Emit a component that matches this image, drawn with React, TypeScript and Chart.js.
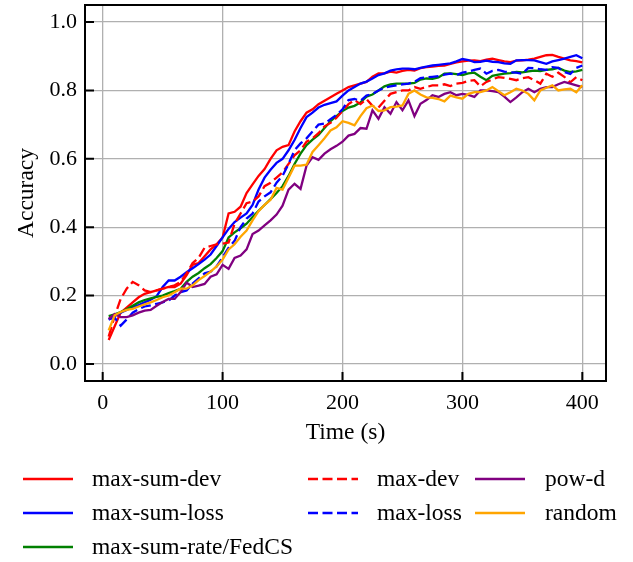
import React, { useEffect, useRef } from "react";
import { Chart, registerables } from "chart.js";

Chart.register(...registerables);

const TIMES = [
  5, 10, 15, 20, 25, 30, 35, 40, 45, 50, 55, 60, 65, 70, 75, 80, 85, 90, 95, 100,
  105, 110, 115, 120, 125, 130, 135, 140, 145, 150, 155, 160, 165, 170, 175, 180, 185, 190, 195, 200,
  205, 210, 215, 220, 225, 230, 235, 240, 245, 250, 255, 260, 265, 270, 275, 280, 285, 290, 295, 300,
  305, 310, 315, 320, 325, 330, 335, 340, 345, 350, 355, 360, 365, 370, 375, 380, 385, 390, 395, 400,
];

const MAX_SUM_DEV = [
  0.07, 0.11, 0.15, 0.165, 0.18, 0.195, 0.205, 0.21, 0.215, 0.22, 0.225, 0.225, 0.235, 0.26, 0.29, 0.295, 0.315, 0.335, 0.35, 0.37,
  0.44, 0.445, 0.46, 0.5, 0.525, 0.55, 0.57, 0.6, 0.625, 0.635, 0.64, 0.68, 0.71, 0.735, 0.745, 0.76, 0.77, 0.78, 0.79, 0.8,
  0.81, 0.815, 0.82, 0.825, 0.84, 0.85, 0.85, 0.855, 0.852, 0.857, 0.86, 0.858, 0.865, 0.868, 0.87, 0.872, 0.873, 0.878, 0.882, 0.885,
  0.887, 0.888, 0.886, 0.89, 0.893, 0.889, 0.885, 0.883, 0.887, 0.888, 0.89, 0.893, 0.898, 0.903, 0.904, 0.898, 0.893, 0.888, 0.886, 0.882,
];

const MAX_SUM_LOSS = [
  0.13, 0.14, 0.15, 0.158, 0.166, 0.172, 0.18, 0.188, 0.198, 0.225, 0.244, 0.244, 0.255, 0.268, 0.28, 0.292, 0.305, 0.32, 0.345, 0.37,
  0.395, 0.415, 0.428, 0.44, 0.465, 0.51, 0.545, 0.568, 0.588, 0.6, 0.625, 0.655, 0.69, 0.722, 0.735, 0.75, 0.758, 0.763, 0.768, 0.785,
  0.8, 0.81, 0.82, 0.826, 0.835, 0.845, 0.85, 0.858, 0.862, 0.864, 0.864, 0.862, 0.866, 0.87, 0.873, 0.875, 0.877, 0.879, 0.885, 0.892,
  0.889, 0.883, 0.884, 0.887, 0.884, 0.883, 0.879, 0.878, 0.888, 0.889, 0.889, 0.888, 0.883, 0.878, 0.885, 0.889, 0.893, 0.898, 0.903, 0.894,
];

const MAX_SUM_RATE = [
  0.14, 0.145, 0.152, 0.16, 0.17, 0.18, 0.187, 0.192, 0.196, 0.2, 0.207, 0.213, 0.22, 0.24, 0.255, 0.266, 0.28, 0.292, 0.31, 0.33,
  0.37, 0.385, 0.397, 0.41, 0.43, 0.448, 0.465, 0.482, 0.5, 0.52, 0.55, 0.585, 0.615, 0.64, 0.656, 0.67, 0.69, 0.71, 0.725, 0.74,
  0.75, 0.755, 0.765, 0.782, 0.788, 0.8, 0.812, 0.818, 0.82, 0.82, 0.82, 0.822, 0.832, 0.835, 0.834, 0.838, 0.849, 0.85, 0.848, 0.845,
  0.85, 0.852, 0.84, 0.83, 0.843, 0.846, 0.849, 0.851, 0.854, 0.853, 0.856, 0.858, 0.857, 0.86, 0.862, 0.866, 0.858, 0.854, 0.856, 0.86,
];

const MAX_DEV = [
  0.08, 0.14, 0.19, 0.22, 0.24, 0.23, 0.215, 0.21, 0.215, 0.22, 0.225, 0.23, 0.24, 0.265, 0.295, 0.31, 0.34, 0.345, 0.35, 0.352,
  0.355, 0.41, 0.44, 0.47, 0.475, 0.49, 0.52, 0.53, 0.545, 0.56, 0.585, 0.61, 0.625, 0.65, 0.66, 0.675, 0.695, 0.705, 0.72, 0.74,
  0.76, 0.772, 0.76, 0.775, 0.755, 0.75, 0.77, 0.79, 0.795, 0.8, 0.8, 0.81, 0.805, 0.81, 0.815, 0.815, 0.818, 0.813, 0.82, 0.822,
  0.828, 0.83, 0.812, 0.825, 0.832, 0.839, 0.837, 0.834, 0.83, 0.836, 0.839, 0.83, 0.82, 0.849, 0.84, 0.852, 0.84, 0.824, 0.839, 0.83,
];

const MAX_LOSS = [
  0.13, 0.135, 0.112, 0.13, 0.15, 0.16, 0.168, 0.171, 0.176, 0.18, 0.185, 0.2, 0.21, 0.215, 0.235, 0.25, 0.265, 0.27, 0.285, 0.312,
  0.34, 0.36, 0.4, 0.425, 0.44, 0.475, 0.49, 0.502, 0.53, 0.55, 0.585, 0.625, 0.645, 0.66, 0.68, 0.7, 0.703, 0.716, 0.728, 0.745,
  0.772, 0.775, 0.77, 0.785, 0.79, 0.8, 0.808, 0.812, 0.815, 0.818, 0.82, 0.825, 0.836, 0.838, 0.84, 0.842, 0.846, 0.849, 0.845, 0.852,
  0.855, 0.86, 0.864, 0.849, 0.857, 0.86, 0.855, 0.853, 0.852, 0.849, 0.866, 0.865, 0.862, 0.86, 0.868, 0.866, 0.854, 0.848, 0.866, 0.873,
];

const POW_D = [
  0.132, 0.146, 0.137, 0.137, 0.142, 0.15, 0.156, 0.158, 0.17, 0.181, 0.19, 0.19, 0.21, 0.238, 0.225, 0.229, 0.234, 0.255, 0.262, 0.29,
  0.278, 0.31, 0.317, 0.335, 0.38, 0.39, 0.405, 0.42, 0.437, 0.463, 0.51, 0.527, 0.512, 0.58, 0.605, 0.597, 0.615, 0.628, 0.638, 0.65,
  0.668, 0.673, 0.69, 0.688, 0.742, 0.717, 0.751, 0.732, 0.766, 0.742, 0.771, 0.725, 0.761, 0.772, 0.786, 0.781, 0.79, 0.795, 0.786, 0.79,
  0.787, 0.781, 0.8, 0.8, 0.798, 0.795, 0.782, 0.766, 0.78, 0.795, 0.805, 0.795, 0.805, 0.81, 0.81, 0.818, 0.825, 0.82, 0.815, 0.81,
];

const RANDOM = [
  0.098, 0.142, 0.152, 0.158, 0.161, 0.168, 0.174, 0.18, 0.187, 0.195, 0.2, 0.21, 0.22, 0.22, 0.23, 0.245, 0.257, 0.27, 0.285, 0.305,
  0.335, 0.35, 0.372, 0.39, 0.42, 0.447, 0.465, 0.48, 0.515, 0.51, 0.545, 0.58, 0.58, 0.583, 0.62, 0.64, 0.66, 0.683, 0.692, 0.71,
  0.705, 0.698, 0.725, 0.748, 0.756, 0.74, 0.742, 0.751, 0.753, 0.756, 0.79, 0.8, 0.788, 0.78, 0.778, 0.775, 0.768, 0.785, 0.78, 0.776,
  0.79, 0.795, 0.795, 0.8, 0.81, 0.798, 0.786, 0.795, 0.805, 0.8, 0.79, 0.771, 0.8, 0.808, 0.815, 0.8, 0.803, 0.805, 0.795, 0.815,
];

const SERIES_LABELS = [
  "max-sum-dev",
  "max-sum-loss",
  "max-sum-rate/FedCS",
  "max-dev",
  "max-loss",
  "pow-d",
  "random",
];

const X_TICKS = [0, 100, 200, 300, 400];
const Y_TICKS = [0, 0.2, 0.4, 0.6, 0.8, 1.0];

const FONT = "'Liberation Serif', 'Times New Roman', Times, serif";

export default function App() {
  const canvasRef = useRef<HTMLCanvasElement>(null);

  useEffect(() => {
    const canvas = canvasRef.current;
    if (!canvas) return;

    const seriesValues = [MAX_SUM_DEV, MAX_SUM_LOSS, MAX_SUM_RATE, MAX_DEV, MAX_LOSS, POW_D, RANDOM];
    const colors = ["#ff0000", "#0000ff", "#008000", "#ff0000", "#0000ff", "#800080", "#ffa500"];
    const dashes = [[], [], [], [10, 4.5], [10, 4.5], [], []];
    const n = SERIES_LABELS.length;

    const datasets = SERIES_LABELS.map((label, i) => ({
      label,
      data: TIMES.map((t, k) => ({ x: t, y: seriesValues[i][k] })),
      borderColor: colors[i],
      backgroundColor: colors[i],
      borderWidth: 2.3,
      borderDash: dashes[i],
      pointRadius: 0,
      tension: 0,
      fill: false,
      order: n - i,
    }));

    // legend layout (column-major, 3 columns)
    const legendItems = [
      { i: 0, lx: 23, tx: 92, y: 479 },
      { i: 1, lx: 23, tx: 92, y: 513 },
      { i: 2, lx: 23, tx: 92, y: 547 },
      { i: 3, lx: 308, tx: 377, y: 479 },
      { i: 4, lx: 308, tx: 377, y: 513 },
      { i: 5, lx: 475, tx: 545, y: 479 },
      { i: 6, lx: 475, tx: 545, y: 513 },
    ];

    const decorPlugin = {
      id: "decor",
      afterDraw(chart: any) {
        const { ctx, chartArea: a, scales } = chart;
        ctx.save();
        ctx.strokeStyle = "#000";
        ctx.lineWidth = 2;
        ctx.setLineDash([]);
        // inward ticks
        ctx.beginPath();
        for (const v of X_TICKS) {
          const px = scales.x.getPixelForValue(v);
          ctx.moveTo(px, a.bottom);
          ctx.lineTo(px, a.bottom - 9);
        }
        for (const v of Y_TICKS) {
          const py = scales.y.getPixelForValue(v);
          ctx.moveTo(a.left, py);
          ctx.lineTo(a.left + 9, py);
        }
        ctx.stroke();
        // frame
        ctx.strokeRect(a.left, a.top, a.right - a.left, a.bottom - a.top);

        // axis titles
        ctx.fillStyle = "#000";
        ctx.font = `23.5px ${FONT}`;
        ctx.textAlign = "center";
        ctx.textBaseline = "middle";
        ctx.fillText("Time (s)", (a.left + a.right) / 2, 433);
        ctx.save();
        ctx.translate(27, (a.top + a.bottom) / 2);
        ctx.rotate(-Math.PI / 2);
        ctx.fillText("Accuracy", 0, 0);
        ctx.restore();

        // legend
        ctx.textAlign = "left";
        for (const it of legendItems) {
          ctx.beginPath();
          ctx.strokeStyle = colors[it.i];
          ctx.lineWidth = 2.3;
          ctx.setLineDash(dashes[it.i]);
          ctx.moveTo(it.lx, it.y);
          ctx.lineTo(it.lx + 50, it.y);
          ctx.stroke();
          ctx.setLineDash([]);
          ctx.fillStyle = "#000";
          ctx.fillText(SERIES_LABELS[it.i], it.tx, it.y + 1);
        }
        ctx.restore();
      },
    };

    const chart = new Chart(canvas, {
      type: "line",
      data: { datasets },
      options: {
        animation: false,
        responsive: false,
        maintainAspectRatio: false,
        layout: { padding: { top: 5, right: 27, bottom: 121, left: 0 } },
        plugins: {
          legend: { display: false },
          tooltip: { enabled: false },
        },
        scales: {
          x: {
            type: "linear",
            min: -14.75,
            max: 419.75,
            afterBuildTicks: (scale: any) => {
              scale.ticks = X_TICKS.map((v) => ({ value: v }));
            },
            afterFit: (scale: any) => {
              scale.height = 60;
              scale.paddingLeft = 0;
              scale.paddingRight = 0;
              scale.paddingTop = 0;
              scale.paddingBottom = 0;
            },
            grid: { color: "#b0b0b0", lineWidth: 1.3, drawTicks: false },
            border: { display: false },
            ticks: {
              color: "#000",
              font: { family: FONT, size: 22 },
              padding: 9,
              maxRotation: 0,
              callback: (v: any) => String(v),
            },
          },
          y: {
            type: "linear",
            min: -0.05,
            max: 1.05,
            afterBuildTicks: (scale: any) => {
              scale.ticks = Y_TICKS.map((v) => ({ value: v }));
            },
            afterFit: (scale: any) => {
              scale.width = 85;
              scale.paddingLeft = 0;
              scale.paddingRight = 0;
              scale.paddingTop = 0;
              scale.paddingBottom = 0;
            },
            grid: { color: "#b0b0b0", lineWidth: 1.3, drawTicks: false },
            border: { display: false },
            ticks: {
              color: "#000",
              font: { family: FONT, size: 22 },
              padding: 8,
              callback: (v: any) => Number(v).toFixed(1),
            },
          },
        },
      },
      plugins: [decorPlugin],
    });

    return () => {
      chart.destroy();
    };
  }, []);

  return (
    <div style={{ position: "absolute", left: 0, top: 0, width: 633, height: 562, background: "#fff" }}>
      <canvas ref={canvasRef} width={633} height={562} style={{ display: "block" }} />
    </div>
  );
}
